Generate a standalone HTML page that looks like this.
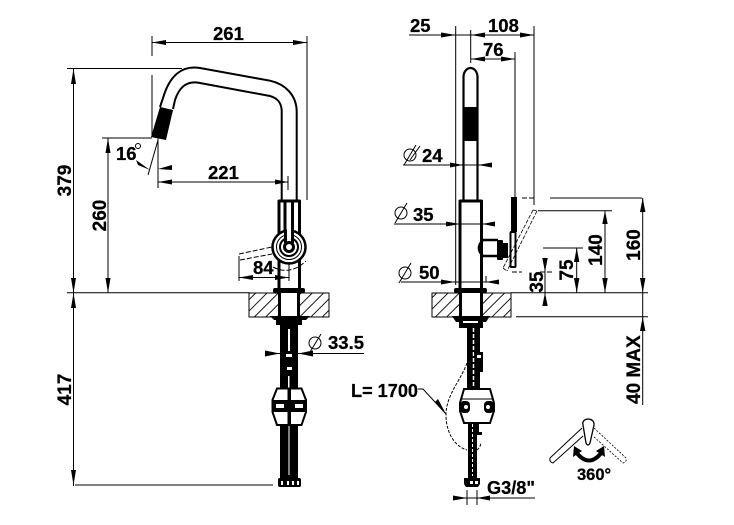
<!DOCTYPE html>
<html><head><meta charset="utf-8"><style>
html,body{margin:0;padding:0;background:#fff}
svg{display:block}
text{font-family:"Liberation Sans",sans-serif;font-weight:bold;font-size:18.500px;fill:#000;stroke:#000;stroke-width:.25}
.r{font-size:19px}
.t{stroke:#000;stroke-width:1;fill:none}
.m{stroke:#000;stroke-width:3;fill:none}
.d{stroke:#000;stroke-width:1;fill:none;stroke-dasharray:5 2}
</style></head><body>
<svg width="734" height="525" viewBox="0 0 734 525" xmlns="http://www.w3.org/2000/svg">
<rect width="734" height="525" fill="#fff"/>
<defs>
<pattern id="hat" width="8" height="8" patternUnits="userSpaceOnUse" patternTransform="rotate(-45)">
<line x1="0" y1="4" x2="8" y2="4" stroke="#000" stroke-width=".9"/>
</pattern>
</defs>

<!-- LEFT VIEW dims -->
<path class="t" d="M152 36V56M307 36V200M152 42.500H307M67 68.500H182M73.500 68.500V486M152 75V137M102 138H152M108 138V293M158 138V188M158 140L148 175M158 182H288M288 176V190M67 292.700H250M75 485H273"/>
<polygon points="152,42.500 166,40 166,45"/><polygon points="307,42.500 293,40 293,45"/>
<polygon points="73.500,68.500 71,84 76,84"/><polygon points="73.500,293 71,278 76,278"/>
<polygon points="73.500,293 71,308 76,308"/><polygon points="73.500,485 71,470 76,470"/>
<polygon points="108,138 105.500,153 110.500,153"/><polygon points="108,293 105.500,278 110.500,278"/>
<polygon points="158,182 172,179.500 172,184.500"/><polygon points="288,182 275,179.500 275,184.500"/>
<polygon points="158,169 172,165 172,170"/><polygon points="150,170 136,160 138,165"/>
<text x="213" y="40">261</text>
<text x="208" y="179">221</text>
<text x="116" y="160">16</text>
<circle cx="138" cy="146" r="2.500" class="t"/>
<text class="r" transform="translate(71 180.500) rotate(-90)" text-anchor="middle">379</text>
<text class="r" transform="translate(106 215.500) rotate(-90)" text-anchor="middle">260</text>
<text class="r" transform="translate(71 389.500) rotate(-90)" text-anchor="middle">417</text>

<!-- LEFT spout -->
<path class="m" style="stroke-width:2" d="M296.700 112C296.700 95 285 84 270 80.700L200 68C182 65 171 76 165 92L160 107"/>
<path class="m" style="stroke-width:2" d="M281.700 200V110C281 102 277 98 270 96L200 83C186 80 179 88 175 100L173 109"/>
<path class="m" style="stroke-width:2" d="M296.700 112V200"/>
<polygon points="160,107 173,110 166,140 151,137"/>

<!-- LEFT body -->
<path class="m" stroke-linejoin="round" d="M279 289V201H299.500V289"/>
<path class="m" d="M285 201V240M292.500 201V240M285 201H292.500"/>
<circle cx="289" cy="247" r="16.500" fill="#fff" stroke="#000" stroke-width="2.500"/>
<circle cx="289" cy="247" r="12.500" fill="none" stroke="#000" stroke-width="1"/>
<circle cx="289" cy="247" r="9" fill="none" stroke="#000" stroke-width="2"/>
<circle cx="289" cy="247" r="4.500" fill="none" stroke="#000" stroke-width="3"/>
<path class="m" d="M285.500 232V243M292.500 232V243"/>
<rect x="287" y="225" width="4" height="14" fill="#fff"/>
<path class="d" d="M239 254L272 247M240 260L272 254M273 267Q290 276 306 261"/>
<path class="t" d="M239 256V281M289 262V281"/>
<path class="t" d="M239 277.500H289"/>
<polygon points="239,277.500 253,275 253,280"/><polygon points="289,277.500 275,275 275,280"/>
<text x="253" y="274">84</text>

<!-- LEFT counter -->
<rect x="249" y="293" width="80" height="24" fill="url(#hat)" stroke="#000" stroke-width="1"/>
<rect x="279" y="293" width="20" height="24" fill="#fff"/>
<path class="m" d="M279.500 293V317M298.500 293V317"/>
<rect x="273" y="288" width="32" height="5" rx="2"/>
<path d="M270 316H310L306 320H302V325H298V329H280V325H276V320H274Z"/>
<rect x="280" y="329" width="18" height="60"/>
<rect x="288" y="329" width="2" height="22" fill="#fff"/>
<rect x="286" y="354" width="6" height="3" fill="#fff"/>
<rect x="287" y="367" width="5" height="3" fill="#fff"/>
<rect x="288" y="376" width="1.500" height="12" fill="#fff"/>
<!-- 33.5 -->
<path class="t" d="M265 353.500H280M298 353.500H364"/>
<polygon points="280,353.500 265,350.500 265,356.500"/><polygon points="298,353.500 313,350.500 313,356.500"/>
<circle cx="315" cy="343" r="6" class="t"/><path class="t" d="M310 352L321 334"/>
<text x="328" y="349">33.5</text>

<!-- LEFT clamp -->
<path d="M280 424H298V478H280Z"/>
<rect x="288.500" y="425" width="1" height="50" fill="#fff"/>
<path d="M277 388.500H301.500L306 400V412L301.500 425H277L272.500 412V400Z" fill="#fff" stroke="#000" stroke-width="2"/>
<rect x="287.500" y="389" width="3.500" height="36"/>
<rect x="272.500" y="400" width="34" height="12" fill="#000"/>
<rect x="276" y="404" width="8" height="4" fill="#fff"/>
<rect x="295" y="404" width="8" height="4" fill="#fff"/>
<rect x="278" y="478" width="23" height="9" rx="2"/>
<path d="M281 481h2v4h-2zM287 481h2v4h-2zM292 481h2v4h-2zM297 481h2v4h-2z" fill="#fff"/>

<!-- RIGHT dims top -->
<path class="t" d="M455.700 26V285M470.700 30V63M515 52V205M534 26V205M409 35H534M471 59H515M403 165H492M394 224H495M401 282H499M486 276V282M410 160L420 146"/>
<polygon points="456,35 441,32.500 441,37.500"/><polygon points="471,35 485,32.500 485,37.500"/><polygon points="534,35 520,32.500 520,37.500"/>
<polygon points="471,59 485,56.500 485,61.500"/><polygon points="515,59 501,56.500 501,61.500"/>
<polygon points="463,165 450,162.500 450,167.500"/><polygon points="478,165 492,162.500 492,167.500"/>
<polygon points="460,224 446,221.500 446,226.500"/><polygon points="482,224 495,221.500 495,226.500"/>
<polygon points="455,282 441,279.500 441,284.500"/><polygon points="486,282 499,279.500 499,284.500"/>
<text x="410" y="32">25</text><text x="488" y="32">108</text><text x="483" y="56">76</text>
<text x="422" y="162">24</text><text x="413" y="221">35</text><text x="419" y="279">50</text>
<circle cx="410" cy="155" r="6" class="t"/><path class="t" d="M404 165L416 145"/>
<circle cx="401" cy="213" r="6" class="t"/><path class="t" d="M395 223L407 203"/>
<circle cx="405" cy="273" r="6" class="t"/><path class="t" d="M399 283L411 263"/>

<!-- RIGHT spout -->
<path class="m" style="stroke-width:2.200" d="M463.500 200V77A7 9 0 0 1 477.500 77V200"/>
<rect x="463" y="107" width="15" height="34"/>
<path class="m" stroke-linejoin="round" d="M460 289V201H481.500V289"/>
<path class="m" style="stroke-width:2.500" d="M482 240H498M482 256H498M483 240Q475 248 483 256"/>
<rect x="497" y="240" width="6" height="20" rx="1"/>
<rect x="503" y="243" width="5" height="15" fill="#000"/>
<rect x="511" y="197" width="6" height="35"/>
<rect x="510.500" y="232" width="5" height="35" rx="1" fill="#fff" stroke="#000" stroke-width="2"/>
<path d="M533 210L503 268M537 211L507 271M503 268L507 271M533 210L537 211" stroke="#000" stroke-width=".8" fill="none" stroke-dasharray="4 1.500"/>
<path class="t" d="M550 198H642M538 210.700H612M543 248H583"/>
<path class="d" d="M522 198H535"/>
<path class="d" d="M512 272H522M540 272H552"/>

<!-- RIGHT counter -->
<rect x="432" y="293" width="79" height="24" fill="url(#hat)" stroke="#000" stroke-width="1"/>
<rect x="460" y="293" width="22" height="24" fill="#fff"/>
<path class="m" d="M460.500 293V317M481.500 293V317"/>
<rect x="454" y="288" width="33" height="5" rx="2"/>
<path d="M452 316H490L486 322H483V328H459V322H456Z"/>
<rect x="463" y="321" width="15" height="2" fill="#fff"/>
<path d="M467 328H480V388H467Z"/>
<path d="M473.500 328V388" stroke="#fff" stroke-width="1.500" stroke-dasharray="4 2"/>
<path d="M474 352h9v20h-7z"/>
<rect x="477" y="355" width="4" height="3" fill="#fff"/>
<!-- RIGHT clamp -->
<path d="M468 422H477V478H468Z"/>
<path d="M472.500 424V476" stroke="#fff" stroke-width="1" stroke-dasharray="3 2"/>
<path d="M464 389H490L494 403V411L490 423H464L460 411V403Z" fill="#fff" stroke="#000" stroke-width="2"/>
<path class="t" d="M461 399H493"/>
<rect x="460" y="401" width="10" height="12" rx="4"/>
<rect x="484" y="401" width="10" height="12" rx="4"/>
<circle cx="466" cy="407" r="2" fill="#fff"/><circle cx="488" cy="407" r="2" fill="#fff"/>
<path d="M464 478H480V484L478 487H466L464 484Z"/>
<rect x="470" y="481" width="3" height="3" fill="#fff"/><rect x="475" y="481" width="3" height="3" fill="#fff"/>
<path d="M477 424h2v8h3v3h-5z"/>
<path d="M467 363C461 380 446 395 446 415C446 432 454 446 467 450M477 450Q480 448 481 443" stroke="#000" stroke-width="1" fill="none" stroke-dasharray="3 1.500"/>
<path class="t" d="M418 389H423L446 414"/>
<polygon points="446,414 435,402 438,399"/>
<text x="351" y="397" textLength="67" lengthAdjust="spacingAndGlyphs">L= 1700</text>
<path class="t" d="M467 490V505M477 490V505M453 498H535"/>
<polygon points="467,498 453,495.500 453,500.500"/><polygon points="477,498 490,495.500 490,500.500"/>
<text x="487" y="494" textLength="48" lengthAdjust="spacingAndGlyphs">G3/8"</text>

<!-- RIGHT dims -->
<path class="t" d="M511 292.700H648M516 316.700H648M642.700 198V405M605 210.700V293M576.700 248V293M545 258V306"/>
<polygon points="642.700,198 640,212 645.400,212"/><polygon points="642.700,292.700 640,278 645.400,278"/><polygon points="642.700,316.700 640,331 645.400,331"/>
<polygon points="605,210.700 602.300,224 607.700,224"/><polygon points="605,292.700 602.300,278 607.700,278"/>
<polygon points="576.700,248 574,262 579.400,262"/><polygon points="576.700,292.700 574,278 579.400,278"/>
<polygon points="545,272 542.300,258 547.700,258"/><polygon points="545,292.700 542.300,306 547.700,306"/>
<text class="r" transform="translate(640 245) rotate(-90)" text-anchor="middle">160</text>
<text class="r" transform="translate(602 250) rotate(-90)" text-anchor="middle">140</text>
<text class="r" transform="translate(573 270) rotate(-90)" text-anchor="middle">75</text>
<text class="r" transform="translate(543 282) rotate(-90)" text-anchor="middle">35</text>
<text class="r" transform="translate(640 404) rotate(-90)">40 MAX</text>

<!-- 360 icon -->
<path class="t" d="M582 428L550 458Q549 462 553 463L583 436"/>
<path d="M594 428L626 458Q627 462 623 463L593 436" stroke="#000" stroke-width=".8" fill="none" stroke-dasharray="2 1.500"/>
<path d="M583 425C581 417 595 417 594 425L590 443Q588 447 586 443Z" fill="#fff" stroke="#000" stroke-width="1.300"/>
<path d="M576 452Q589 469 602 452" stroke="#000" stroke-width="4" fill="none"/>
<polygon points="574,446 582,451 573,457"/><polygon points="604,446 596,451 605,457"/>
<text x="577" y="480" style="font-size:16.500px">360°</text>
</svg>
</body></html>
